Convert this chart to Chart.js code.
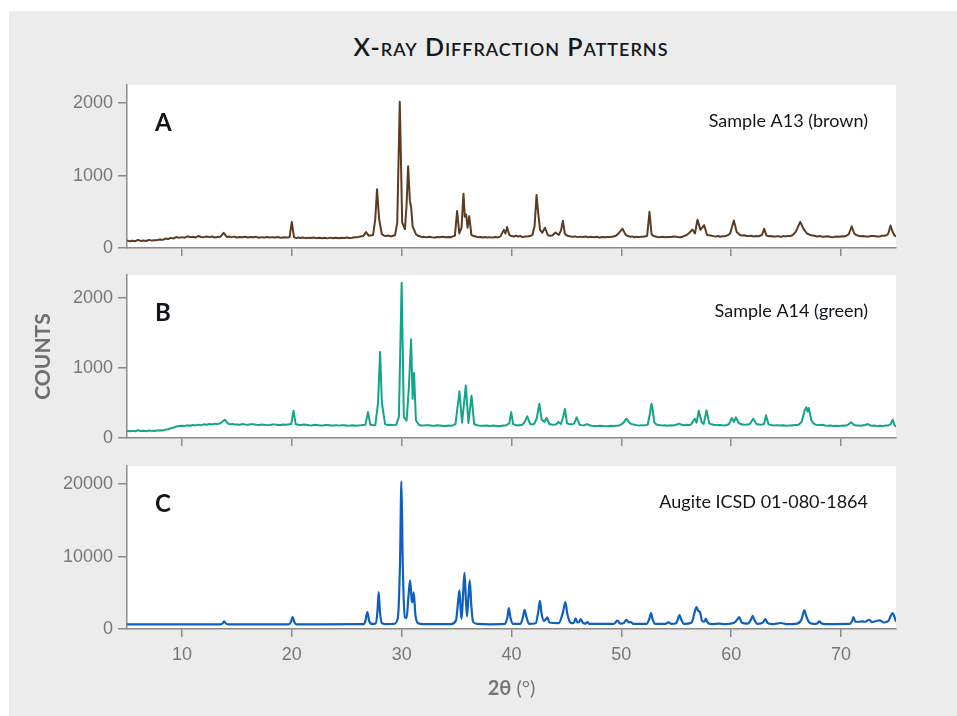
<!DOCTYPE html>
<html>
<head>
<meta charset="utf-8">
<title>X-ray Diffraction Patterns</title>
<script src="https://cdn.jsdelivr.net/npm/chart.js@4.4.1/dist/chart.umd.min.js"></script>
<style>
  body { margin: 0; background: #fff; width: 957px; height: 716px; position: relative; overflow: hidden; }
  #frame { position: absolute; left: 9px; top: 11px; width: 948px; height: 705px; background: #ececec; }
  #title { position: absolute; left: 111px; width: 800px; top: 34px; line-height: 25px; text-align: center;
           font-family: Lato, sans-serif; font-size: 25px; font-weight: 600; font-variant: small-caps;
           color: #14191d; letter-spacing: 1px; }
  canvas { position: absolute; left: 0; }
</style>
</head>
<body>
<div id="frame"></div>
<div id="title">X-ray Diffraction Patterns</div>
<canvas id="panelA" width="957" height="200" style="top:65px"></canvas>
<canvas id="panelB" width="957" height="200" style="top:255px"></canvas>
<canvas id="panelC" width="957" height="270" style="top:446px"></canvas>
<script>
// [2theta, counts]
var sampleA13 = [
  [5,105],[5.25,92],[5.5,100],[5.75,94],[6,110],[6.25,98],[6.5,104],[6.75,96],[7,112],[7.25,102],
  [7.5,106],[7.75,110],[8,118],[8.25,112],[8.5,130],[8.75,124],[9,140],[9.25,132],[9.5,152],[9.75,140],
  [10,150],[10.25,142],[10.5,162],[10.75,150],[11,155],[11.25,146],[11.5,165],[11.75,152],[12,150],[12.25,160],
  [12.5,150],[12.75,158],[13,145],[13.25,152],[13.5,156],[13.8,210],[14.1,150],[14.3,158],[14.5,150],[14.75,157],
  [15,144],[15.25,153],[15.5,148],[15.75,155],[16,146],[16.25,152],[16.5,147],[16.75,154],[17,141],[17.25,150],
  [17.5,146],[17.75,152],[18,144],[18.25,150],[18.5,146],[18.75,152],[19,140],[19.25,149],[19.5,145],[19.8,150],
  [20.0,360],[20.2,150],[20.4,136],[20.6,144],[20.8,138],[21,146],[21.25,136],[21.5,143],[21.75,137],[22,145],
  [22.25,136],[22.5,142],[22.75,134],[23,140],[23.25,133],[23.5,143],[23.75,136],[24,140],[24.25,134],[24.5,142],
  [24.75,137],[25,146],[25.25,138],[25.5,142],[25.75,147],[26,150],[26.25,158],[26.5,165],[26.76,220],[27.0,170],
  [27.4,180],[27.6,400],[27.76,810],[27.95,400],[28.2,190],[28.4,170],[28.6,165],[28.8,172],[29,160],[29.2,168],
  [29.4,175],[29.6,350],[29.83,2020],[30.05,350],[30.3,260],[30.45,600],[30.59,1130],[30.75,650],[30.86,570],[31.0,300],
  [31.3,190],[31.5,168],[31.7,160],[31.85,150],[32,156],[32.25,147],[32.5,156],[32.75,149],[33,144],[33.25,152],
  [33.5,148],[33.75,155],[34,147],[34.25,152],[34.5,150],[34.85,170],[35.05,510],[35.25,200],[35.45,280],[35.63,750],
  [35.75,430],[35.87,460],[36.0,280],[36.15,440],[36.35,180],[36.55,165],[36.8,156],[37.0,148],[37.2,153],[37.4,146],
  [37.6,152],[37.8,145],[38,150],[38.25,143],[38.5,151],[38.75,147],[39,160],[39.3,250],[39.45,200],[39.6,290],
  [39.8,180],[40.0,165],[40.2,160],[40.4,168],[40.6,160],[40.8,166],[41,150],[41.25,158],[41.5,161],[41.7,165],
  [41.9,180],[42.1,300],[42.28,730],[42.4,530],[42.6,250],[42.8,210],[43.04,280],[43.3,180],[43.5,168],[43.7,172],
  [44.0,215],[44.3,180],[44.5,240],[44.68,375],[44.85,200],[45.0,175],[45.2,165],[45.4,158],[45.6,154],[45.8,160],
  [46,150],[46.25,157],[46.5,152],[46.75,158],[47,147],[47.25,154],[47.5,149],[47.75,155],[48,144],[48.25,151],
  [48.5,147],[48.75,153],[49,151],[49.25,158],[49.5,170],[49.7,195],[49.9,230],[50.1,268],[50.4,180],[50.6,165],
  [50.8,155],[51.0,160],[51.2,149],[51.4,156],[51.6,150],[51.8,157],[52,155],[52.2,162],[52.35,170],[52.56,500],
  [52.75,190],[52.9,168],[53.1,160],[53.3,153],[53.5,150],[53.75,155],[54,147],[54.25,153],[54.5,151],[54.75,158],
  [55,156],[55.2,150],[55.4,149],[55.6,158],[55.8,170],[56.0,185],[56.2,210],[56.47,256],[56.7,200],[56.93,390],
  [57.2,250],[57.54,315],[57.8,180],[58.0,176],[58.2,170],[58.4,164],[58.6,160],[58.8,165],[59,155],[59.25,162],
  [59.5,166],[59.7,178],[59.9,200],[60.24,380],[60.5,220],[60.8,180],[61.0,172],[61.2,175],[61.4,166],[61.6,164],
  [61.8,170],[62,160],[62.25,166],[62.5,162],[62.8,180],[63.0,265],[63.2,175],[63.4,162],[63.6,165],[63.8,158],
  [64,159],[64.25,164],[64.5,155],[64.75,161],[65,161],[65.25,166],[65.5,170],[65.7,192],[65.9,230],[66.28,360],
  [66.6,260],[66.9,200],[67.1,186],[67.3,175],[67.55,168],[67.8,160],[68.05,166],[68.3,154],[68.55,160],[68.8,161],
  [69.05,153],[69.3,150],[69.55,158],[69.8,156],[70.05,162],[70.3,160],[70.5,170],[70.7,190],[70.97,300],[71.2,200],
  [71.4,178],[71.6,170],[71.8,162],[72,165],[72.25,158],[72.5,159],[72.75,165],[73,166],[73.25,158],[73.5,160],
  [73.75,168],[74,170],[74.2,182],[74.3,200],[74.5,310],[74.7,220],[74.85,175],[75,160]
];

var sampleA14 = [
  [5,105],[5.25,96],[5.5,102],[5.75,95],[6,110],[6.25,100],[6.5,104],[6.75,97],[7,108],[7.25,102],
  [7.5,100],[7.75,106],[8,112],[8.25,108],[8.5,120],[8.75,126],[9,140],[9.25,150],[9.5,165],[9.75,172],
  [10,175],[10.25,170],[10.5,181],[10.75,176],[11,185],[11.25,180],[11.5,191],[11.75,184],[12,195],[12.25,190],
  [12.5,201],[12.75,194],[13,205],[13.25,198],[13.5,210],[13.9,262],[14.2,205],[14.4,198],[14.6,200],[14.8,192],
  [15,194],[15.25,188],[15.5,201],[15.75,193],[16,190],[16.25,197],[16.5,196],[16.75,188],[17,185],[17.25,192],
  [17.5,191],[17.75,184],[18,187],[18.25,194],[18.5,193],[18.75,186],[19,185],[19.25,192],[19.5,190],[19.95,200],
  [20.16,390],[20.35,200],[20.55,188],[20.8,185],[21.05,192],[21.3,191],[21.55,183],[21.8,180],[22.05,188],[22.3,186],
  [22.55,180],[22.8,177],[23.05,186],[23.3,185],[23.55,178],[23.8,180],[24.05,184],[24.3,177],[24.55,182],[24.8,183],
  [25.05,176],[25.3,178],[25.55,182],[25.8,175],[26.05,180],[26.3,181],[26.5,186],[26.7,190],[26.94,370],[27.15,190],
  [27.4,182],[27.6,185],[27.85,500],[28.04,1230],[28.2,500],[28.5,195],[28.75,186],[29,190],[29.25,184],[29.5,190],
  [29.75,300],[30.0,2220],[30.2,300],[30.45,250],[30.65,700],[30.86,1410],[31.0,560],[31.13,930],[31.3,250],[31.6,185],
  [31.8,180],[32,178],[32.25,184],[32.5,181],[32.75,174],[33,175],[33.25,181],[33.5,179],[33.75,172],[34,172],
  [34.25,178],[34.5,176],[34.7,184],[34.9,200],[35.26,665],[35.5,220],[35.84,750],[36.08,215],[36.36,605],[36.6,200],
  [36.8,186],[37,180],[37.25,176],[37.5,175],[37.75,179],[38,172],[38.25,177],[38.5,176],[38.75,170],[39,172],
  [39.25,178],[39.5,180],[39.8,210],[39.97,370],[40.15,200],[40.35,186],[40.6,180],[40.8,186],[41,190],[41.2,230],
  [41.43,310],[41.7,200],[41.9,192],[42.1,210],[42.3,280],[42.53,490],[42.75,260],[43.0,230],[43.2,286],[43.45,200],
  [43.65,192],[43.9,190],[44.1,198],[44.26,229],[44.5,200],[44.7,300],[44.87,414],[45.05,210],[45.25,198],[45.5,195],
  [45.7,205],[45.93,295],[46.2,190],[46.4,184],[46.6,180],[46.9,200],[47.1,182],[47.3,175],[47.55,172],[47.8,170],
  [48.05,176],[48.3,173],[48.55,168],[48.8,168],[49.05,175],[49.3,172],[49.55,176],[49.8,180],[50.0,195],[50.2,220],
  [50.46,276],[50.8,210],[51.0,196],[51.2,190],[51.4,184],[51.6,180],[51.8,184],[52,178],[52.2,184],[52.4,190],
  [52.6,350],[52.74,490],[52.85,405],[53.0,220],[53.2,192],[53.4,185],[53.6,181],[53.8,178],[54.0,182],[54.2,175],
  [54.45,181],[54.7,180],[55.0,190],[55.25,205],[55.5,190],[55.7,182],[55.95,188],[56.2,185],[56.35,196],[56.5,230],
  [56.68,276],[56.85,220],[57.05,390],[57.3,230],[57.5,200],[57.75,395],[58.0,210],[58.2,196],[58.4,190],[58.7,184],
  [58.99,186],[59.2,182],[59.4,180],[59.6,186],[59.8,200],[60.06,286],[60.25,230],[60.42,295],[60.7,210],[60.95,196],
  [61.2,190],[61.45,194],[61.7,200],[62.0,276],[62.3,200],[62.55,194],[62.8,190],[63.0,204],[63.16,324],[63.4,195],
  [63.65,186],[63.9,180],[64.2,184],[64.5,178],[64.75,182],[65,175],[65.25,180],[65.5,180],[65.75,186],[66,185],
  [66.2,196],[66.4,230],[66.7,400],[66.84,438],[66.95,380],[67.06,429],[67.3,250],[67.5,205],[67.7,190],[68.0,184],
  [68.3,190],[68.55,180],[68.8,175],[69.05,179],[69.3,172],[69.55,175],[69.8,170],[70.05,177],[70.3,175],[70.6,185],
  [70.9,224],[71.2,185],[71.4,178],[71.6,180],[71.8,176],[72,182],[72.2,186],[72.43,200],[72.6,182],[72.8,175],
  [73.05,178],[73.3,170],[73.55,176],[73.8,172],[74.05,178],[74.3,180],[74.5,196],[74.7,262],[74.85,190],[75,157]
];

var augiteRef = [
  [5,650],[13.5,650],[13.7,760],[13.84,1050],[14.0,760],[14.2,650],[19.7,650],[19.9,900],[20.07,1650],[20.25,900],
  [20.45,650],[26.5,660],[26.7,1100],[26.88,2340],[27.05,1100],[27.3,700],[27.65,800],[27.8,2500],[27.91,5090],[28.02,2500],
  [28.2,800],[28.5,680],[29.3,700],[29.65,1500],[29.85,9000],[29.98,20400],[30.1,9000],[30.3,1600],[30.45,1500],[30.62,4500],
  [30.77,6700],[30.92,3900],[30.98,3700],[31.1,5050],[31.25,2000],[31.5,800],[32,680],[34.5,680],[34.95,1200],[35.15,4000],
  [35.26,5320],[35.38,2500],[35.46,1400],[35.6,5000],[35.72,7750],[35.85,4000],[35.95,1750],[36.07,4200],[36.2,6700],[36.33,3500],
  [36.5,1000],[36.9,700],[38,650],[39.4,700],[39.62,1600],[39.76,2890],[39.9,1600],[40.15,700],[40.8,700],[41.05,1700],
  [41.19,2660],[41.35,1700],[41.6,720],[42.2,800],[42.45,2500],[42.59,3900],[42.73,2200],[42.95,1100],[43.1,1300],[43.26,1600],
  [43.45,900],[44.3,800],[44.7,2400],[44.9,3715],[45.08,2100],[45.35,900],[45.65,800],[45.84,1470],[46.0,900],[46.15,950],
  [46.3,1376],[46.5,850],[46.75,750],[46.9,960],[47.1,700],[49.3,700],[49.64,1150],[49.9,750],[50.2,800],[50.46,1280],
  [50.65,900],[50.85,960],[51.1,700],[52.3,720],[52.55,1400],[52.7,2200],[52.85,1300],[53.1,700],[54.0,700],[54.29,920],
  [54.55,700],[55.0,800],[55.15,1400],[55.29,1930],[55.45,1300],[55.7,700],[56.4,900],[56.65,2200],[56.84,3030],[57.0,2500],
  [57.17,2290],[57.35,1100],[57.55,1000],[57.69,1420],[57.85,900],[58.2,680],[58.9,734],[59.4,680],[60.3,900],[60.55,1300],
  [60.73,1650],[60.95,900],[61.5,750],[61.8,1300],[61.95,1830],[62.12,1200],[62.4,700],[62.9,900],[63.1,1376],[63.3,850],
  [63.7,680],[64.53,825],[65.0,680],[66.0,750],[66.4,1300],[66.65,2570],[66.85,1700],[67.1,900],[67.5,700],[67.85,800],
  [68.02,1055],[68.2,800],[68.6,680],[70.8,700],[71.0,1100],[71.12,1650],[71.3,1000],[71.6,1000],[71.9,1055],[72.2,1000],
  [72.57,1280],[72.8,950],[73.2,1100],[73.5,1190],[73.9,900],[74.3,1100],[74.55,1900],[74.7,2200],[74.85,1700],[75,1000]
];

var twoThetaTicks = [10, 20, 30, 40, 50, 60, 70];
var sampleCountTicks = [0, 1000, 2000];
var refCountTicks = [0, 10000, 20000];

var axisGray = '#8a8a8a';
var tickFont = { family: "'Liberation Sans', Arial, sans-serif", size: 18 };

// white plot area + panel letter and caption (+ x title on the last panel)
var panelTextPlugin = {
    id: 'panelText',
    beforeDraw: function(chart) {
        var a = chart.chartArea;
        chart.ctx.save();
        chart.ctx.fillStyle = '#ffffff';
        chart.ctx.fillRect(a.left, a.top, a.right - a.left, a.bottom - a.top);
        chart.ctx.restore();
    },
    afterDraw: function(chart, args, opts) {
        var ctx = chart.ctx, a = chart.chartArea;
        ctx.save();
        ctx.fillStyle = '#121619';
        ctx.textBaseline = 'alphabetic';
        ctx.textAlign = 'left';
        ctx.font = 'bold 24px Lato, sans-serif';
        ctx.fillText(opts.letter, a.left + 28, a.top + 46);
        ctx.textAlign = 'right';
        ctx.font = '18px Lato, sans-serif';
        ctx.fillText(opts.label, a.right - 28, a.top + 42);
        if (opts.xTitle) {
            var bold = 'bold 20px Lato, sans-serif';
            var thin = '20px Lato, sans-serif';
            ctx.font = bold;
            var w1 = ctx.measureText(opts.xTitle[0]).width;
            ctx.font = thin;
            var w2 = ctx.measureText(opts.xTitle[1]).width;
            var x0 = (a.left + a.right) / 2 - (w1 + w2) / 2;
            var y0 = a.bottom + 66;
            ctx.fillStyle = '#767676';
            ctx.textAlign = 'left';
            ctx.font = bold;
            ctx.fillText(opts.xTitle[0], x0, y0);
            ctx.font = thin;
            ctx.fillText(opts.xTitle[1], x0 + w1, y0);
        }
        ctx.restore();
    }
};

var createPanel = function(canvasId, points, color, lineWidth, smooth, yMax, yTicks, text, xFitHeight, showXLabels, yTitle) {
    var ctx = document.getElementById(canvasId);
    return new Chart(ctx, {
        type: 'line',
        data: {
            datasets: [{
                data: points.map(function(p) { return { x: p[0], y: p[1] }; }),
                borderColor: color,
                borderWidth: lineWidth,
                pointRadius: 0,
                tension: 0,
                cubicInterpolationMode: smooth ? 'monotone' : 'default',
                borderJoinStyle: 'round',
                fill: false
            }]
        },
        options: {
            responsive: false,
            animation: false,
            layout: { padding: { top: 20, right: 61, bottom: 0, left: 0 } },
            plugins: {
                legend: { display: false },
                tooltip: { enabled: false },
                panelText: text
            },
            scales: {
                x: {
                    type: 'linear',
                    min: 5,
                    max: 75,
                    afterBuildTicks: function(scale) {
                        scale.ticks = twoThetaTicks.map(function(v) { return { value: v }; });
                    },
                    afterFit: function(scale) { scale.height = xFitHeight; },
                    grid: { drawOnChartArea: false, drawTicks: true, tickLength: 8, color: axisGray, lineWidth: 1.5 },
                    border: { display: true, color: axisGray, width: 1.5 },
                    ticks: { display: showXLabels, color: '#777777', font: tickFont, padding: 7, maxRotation: 0,
                             callback: function(v) { return String(v); } }
                },
                y: {
                    min: 0,
                    max: yMax,
                    afterBuildTicks: function(scale) {
                        scale.ticks = yTicks.map(function(v) { return { value: v }; });
                    },
                    afterFit: function(scale) { scale.width = 127; },
                    grid: { drawOnChartArea: false, drawTicks: true, tickLength: 9, color: axisGray, lineWidth: 1.5 },
                    border: { display: true, color: axisGray, width: 1.5 },
                    ticks: { color: '#777777', font: tickFont, padding: 5,
                             callback: function(v) { return String(v); } },
                    title: yTitle || { display: false }
                }
            }
        },
        plugins: [panelTextPlugin]
    });
};

var countsTitle = {
    display: true,
    text: 'COUNTS',
    color: '#6e6e6e',
    font: { family: 'Lato, sans-serif', size: 21, weight: 'bold' },
    padding: { top: 31, bottom: 0 }
};

createPanel('panelA', sampleA13, '#5c3b22', 2, false, 2250, sampleCountTicks,
    { letter: 'A', label: 'Sample A13 (brown)' }, 17, false);
createPanel('panelB', sampleA14, '#14a487', 2, false, 2330, sampleCountTicks,
    { letter: 'B', label: 'Sample A14 (green)' }, 17, false, countsTitle);
createPanel('panelC', augiteRef, '#0f5fbf', 2.2, true, 22500, refCountTicks,
    { letter: 'C', label: 'Augite ICSD 01-080-1864', xTitle: ['2θ', ' (°)'] }, 87, true);
</script>
</body>
</html>
